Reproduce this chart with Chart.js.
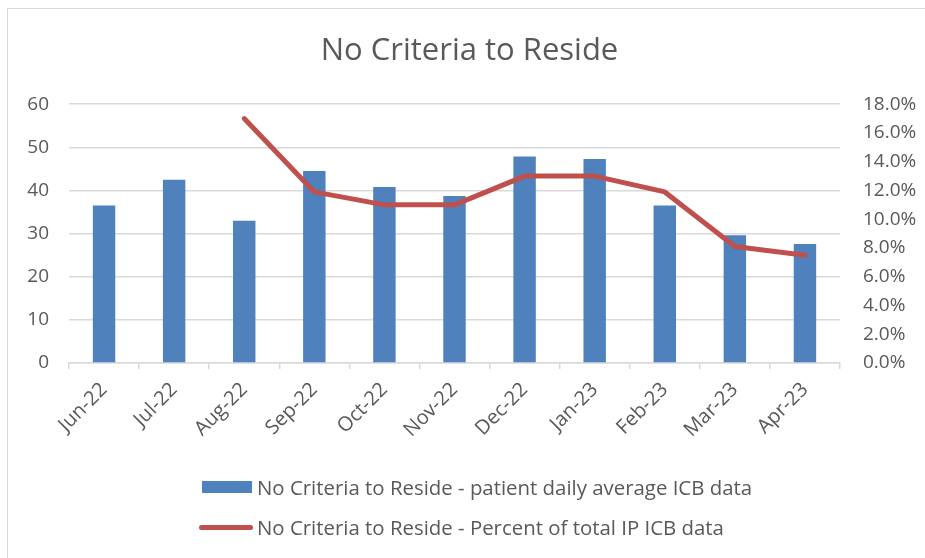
<!DOCTYPE html>
<html>
<head>
<meta charset="utf-8">
<script src="https://cdn.jsdelivr.net/npm/chart.js@4.4.0/dist/chart.umd.min.js"></script>
<style>
    html, body { margin: 0; padding: 0; background: #fff; overflow: hidden; }
    #frame {
        position: absolute; left: 7px; top: 8px; width: 960px; height: 600px;
        border: 1px solid #d9d9d9; box-sizing: border-box;
    }
    #wrap { position: absolute; left: 0; top: 0; width: 925px; height: 558px; }
    .legend-row {
        position: absolute; left: 199px; height: 24px;
        font-family: "Open Sans", sans-serif; font-size: 20.4px; color: #595959;
        line-height: 24px; white-space: nowrap;
    }
    .legend-row .text { position: absolute; left: 58px; top: 0; }
    .swatch-bar { position: absolute; left: 3px; top: 6px; width: 50px; height: 12px; background: #4f81bd; }
    .swatch-line { position: absolute; left: 0; top: 10px; width: 54px; height: 5px; border-radius: 3px; background: #c0504d; }
</style>
</head>
<body>
<div id="frame"></div>
<div id="wrap"><canvas id="ncrChart" width="925" height="558"></canvas></div>
<div class="legend-row" style="top: 475px;"><span class="swatch-bar"></span><span class="text">No Criteria to Reside - patient daily average ICB data</span></div>
<div class="legend-row" style="top: 515px;"><span class="swatch-line"></span><span class="text">No Criteria to Reside - Percent of total IP ICB data</span></div>
<script>
// Données
const months = ['Jun-22', 'Jul-22', 'Aug-22', 'Sep-22', 'Oct-22', 'Nov-22', 'Dec-22', 'Jan-23', 'Feb-23', 'Mar-23', 'Apr-23'];
const dailyAverage = [36.5, 42.5, 33.0, 44.5, 40.8, 38.7, 47.9, 47.3, 36.5, 29.6, 27.6];
const percentOfTotal = [null, null, 17.0, 11.9, 11.0, 11.0, 13.0, 13.0, 11.9, 8.1, 7.5];
const leftTicks = [0, 10, 20, 30, 40, 50, 60];
const rightTicks = [0, 2, 4, 6, 8, 10, 12, 14, 16, 18];

const textColor = '#595959';
const gridColor = '#d9d9d9';
const fontFamily = '"Open Sans", sans-serif';

Chart.defaults.font.family = fontFamily;
Chart.defaults.color = textColor;

const ctx = document.getElementById('ncrChart').getContext('2d');

new Chart(ctx, {
    type: 'bar',
    data: {
        labels: months,
        datasets: [
            {
                type: 'line',
                label: 'No Criteria to Reside - Percent of total IP ICB data',
                data: percentOfTotal,
                yAxisID: 'y1',
                borderColor: '#c0504d',
                backgroundColor: '#c0504d',
                borderWidth: 5,
                pointRadius: 0,
                borderJoinStyle: 'round',
                borderCapStyle: 'round',
                tension: 0,
                order: 1
            },
            {
                type: 'bar',
                label: 'No Criteria to Reside - patient daily average ICB data',
                data: dailyAverage,
                yAxisID: 'y',
                backgroundColor: '#4f81bd',
                borderWidth: 0,
                barPercentage: 0.32,
                categoryPercentage: 1,
                order: 2
            }
        ]
    },
    options: {
        responsive: false,
        animation: false,
        // padding gauche plus large pour décaler le titre comme dans l'original
        layout: { padding: { left: 15, right: 1, top: 8, bottom: 115 } },
        plugins: {
            legend: { display: false },
            tooltip: { enabled: false },
            title: {
                display: true,
                text: 'No Criteria to Reside',
                color: textColor,
                font: { size: 31, weight: 'normal', family: fontFamily },
                padding: { top: 25, bottom: 34 }
            }
        },
        scales: {
            x: {
                offset: true,
                grid: {
                    offset: true,
                    drawOnChartArea: false,
                    drawTicks: true,
                    tickLength: 6,
                    color: gridColor,
                    lineWidth: 1.5
                },
                border: { display: true, color: gridColor, width: 1.5 },
                ticks: {
                    font: { size: 20 },
                    color: textColor,
                    maxRotation: 45,
                    minRotation: 45,
                    padding: 9
                },
                afterFit: (scale) => { scale.height = 80; }
            },
            y: {
                position: 'left',
                min: leftTicks[0],
                max: leftTicks[leftTicks.length - 1],
                afterBuildTicks: (scale) => { scale.ticks = leftTicks.map(v => ({ value: v })); },
                grid: { color: gridColor, lineWidth: 1.5, drawTicks: false },
                border: { display: false },
                ticks: { font: { size: 19 }, color: textColor, padding: 20 },
                afterFit: (scale) => { scale.width = 54; }
            },
            y1: {
                position: 'right',
                min: rightTicks[0],
                max: rightTicks[rightTicks.length - 1],
                afterBuildTicks: (scale) => { scale.ticks = rightTicks.map(v => ({ value: v })); },
                grid: { drawOnChartArea: false, drawTicks: false },
                border: { display: false },
                ticks: {
                    font: { size: 19 },
                    color: textColor,
                    padding: 23,
                    callback: (value) => value.toFixed(1) + '%'
                },
                afterFit: (scale) => { scale.width = 84; }
            }
        }
    }
});
</script>
</body>
</html>
